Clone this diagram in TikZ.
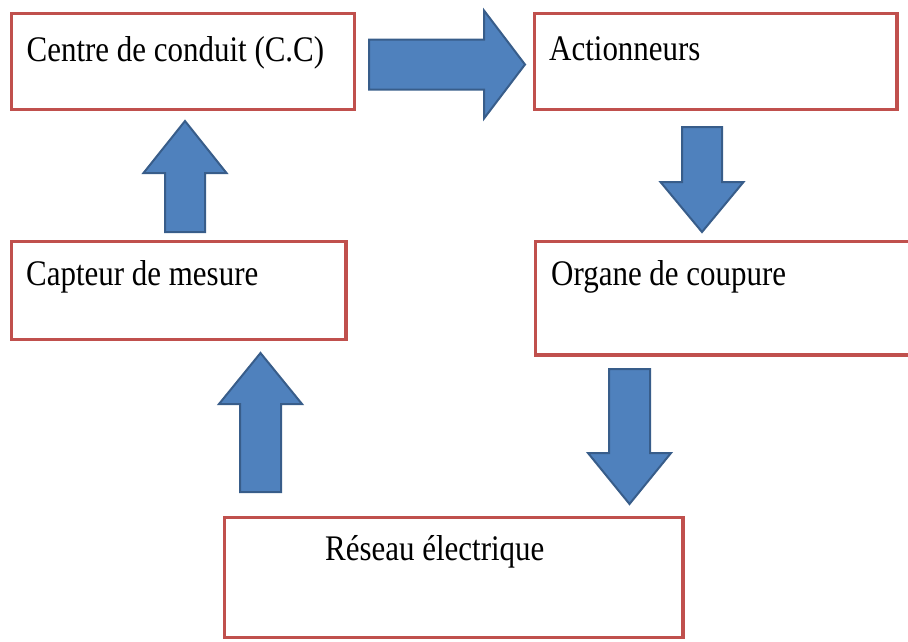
\documentclass[tikz,border=0pt]{standalone}
\usepackage{fontspec}
\newfontfamily\boxfont{Liberation Serif}[FakeStretch=0.86]
\usetikzlibrary{calc}
\definecolor{boxred}{HTML}{C0504D}
\definecolor{arrowfill}{HTML}{4F81BD}
\definecolor{arrowline}{HTML}{385D8A}
\tikzset{
  box/.style={
    draw=boxred, line width=3.5pt, rectangle,
    inner sep=0pt, outer sep=0pt, anchor=north west
  },
  boxtext/.style={
    anchor=base west, inner sep=0pt,
    font=\boxfont\fontsize{36}{40}\selectfont
  },
  fatarrow/.style={
    fill=arrowfill, draw=arrowline, line width=2pt, line join=miter
  }
}
% #1 tail, #2 tip, #3 half shaft, #4 half head, #5 head length
\newcommand{\blockarrow}[5]{%
  \coordinate (neck) at ($(#2)!#5!(#1)$);
  \draw[fatarrow] ($(#1)!#3!90:(#2)$) -- ($(neck)!#3!90:(#2)$)
    -- ($(neck)!#4!90:(#2)$) -- (#2) -- ($(neck)!#4!-90:(#2)$)
    -- ($(neck)!#3!-90:(#2)$) -- ($(#1)!#3!-90:(#2)$) -- cycle;
}

\begin{document}
\begin{tikzpicture}[x=1pt,y=-1pt]
  \useasboundingbox (0,0) rectangle (908,641);
  \clip (0,0) rectangle (908,641);

  % boxes
  \node[box, minimum width=343pt, minimum height=96pt] (cc) at (11.5,13.5) {};
  \node[box, minimum width=362.5pt, minimum height=96pt] (act) at (534.5,13.5) {};
  \node[box, minimum width=334.5pt, minimum height=98pt] (cap) at (11.5,241.5) {};
  \node[box, minimum width=384.5pt, minimum height=113.5pt] (org) at (535.5,241.5) {};
  \node[box, minimum width=458.5pt, minimum height=120pt] (res) at (224.5,517.5) {};

  \node[boxtext] (cctext) at ([shift={(15,47.5)}]cc.north west) {Centre de conduit (C.C)};
  \node[boxtext] (acttext) at ([shift={(14.5,46.5)}]act.north west) {Actionneurs};
  \node[boxtext] (captext) at ([shift={(14.5,43.5)}]cap.north west) {Capteur de mesure};
  \node[boxtext] (orgtext) at ([shift={(15.5,43.5)}]org.north west) {Organe de coupure};
  \node[boxtext] (restext) at ([shift={(100.5,42.5)}]res.north west) {Réseau électrique};

  % arrow ends
  \coordinate (ccout) at (369,64.5);
  \coordinate (actin) at (525,64.5);
  \coordinate (actout) at (702,127);
  \coordinate (orgin) at (702,232);
  \coordinate (orgout) at (629.5,369);
  \coordinate (resin) at (629.5,504);
  \coordinate (resout) at (260.5,492);
  \coordinate (capin) at (260.5,353);
  \coordinate (capout) at (185,232);
  \coordinate (ccin) at (185,121);

  \blockarrow{ccout}{actin}{25pt}{54pt}{41pt}
  \blockarrow{actout}{orgin}{20pt}{41.5pt}{50pt}
  \blockarrow{orgout}{resin}{20.5pt}{41.5pt}{51pt}
  \blockarrow{resout}{capin}{20.5pt}{41.5pt}{51pt}
  \blockarrow{capout}{ccin}{20pt}{41.5pt}{52pt}
\end{tikzpicture}
\end{document}
